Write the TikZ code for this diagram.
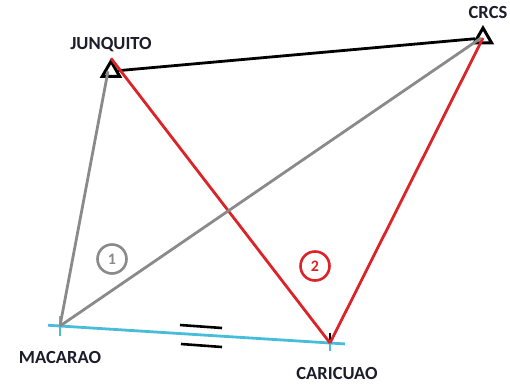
\documentclass[tikz,border=0pt]{standalone}
\usepackage{fontspec}
\setsansfont{Carlito}
\usepackage{tikz}
\usetikzlibrary{positioning,shapes.geometric}
\definecolor{routeGray}{HTML}{8A8A8A}
\definecolor{routeRed}{HTML}{DC2328}
\definecolor{routeCyan}{HTML}{48BDDA}
\definecolor{labelInk}{HTML}{1C1C2A}

\begin{document}
\begin{tikzpicture}[x=1pt, y=-1pt,
  station/.style={font=\sffamily\bfseries\fontsize{18.5}{20}\selectfont, text=labelInk, inner sep=0pt},
  tower/.style={draw=black, regular polygon, regular polygon sides=3, minimum size=20pt,
    inner sep=0pt, line width=3pt},
  road/.style={line width=2.8pt},
  tag/.style={circle, draw, line width=2.6pt, minimum size=29pt, inner sep=0pt,
    font=\sffamily\bfseries\fontsize{16}{17}\selectfont},
]
  \useasboundingbox (0,0) rectangle (510,385);

  % antennas and stops
  \node[tower] (jqTower) at (111,71.3) {};
  \node[tower] (crTower) at (483,38) {};
  \coordinate (mac) at (60,326);
  \coordinate (car) at (330,343);

  \node[station, above=6pt of jqTower] (jqLabel) {JUNQUITO};
  \node[station, above=6pt of crTower, xshift=5pt] (crLabel) {CRCS};
  \node[station, below=25pt of mac] (macLabel) {MACARAO};
  \node[station, below=24pt of car, xshift=7pt] (carLabel) {CARICUAO};

  % ground link
  \draw[road, routeCyan, shorten <=-12pt, shorten >=-15pt] (mac) -- (car);
  \draw[road, routeCyan] ([yshift=10pt]mac) -- ([yshift=-10pt]mac);
  \draw[road, routeCyan] (car) -- ([yshift=-8pt]car);
  \draw[line width=2.6pt] (180,325) -- (222,328);
  \draw[line width=2.6pt] (181,344) -- (222,347);

  % radio links
  \draw[road, black] (jqTower) -- (crTower);
  \draw[road, black] ([yshift=3pt]car) -- ([yshift=10pt]car);
  \draw[road, routeRed] (jqTower.north) -- (car);
  \draw[road, routeRed] (car) -- (crTower.center);
  \draw[road, routeGray] ([xshift=-3pt]jqTower.center) -- (mac);
  \draw[road, routeGray] (mac) -- ([xshift=-2pt]crTower.center);

  \node[tag, draw=routeGray, text=routeGray] (tagOne) at (112,259) {1};
  \node[tag, draw=routeRed, text=routeRed] (tagTwo) at (315,266) {2};
\end{tikzpicture}
\end{document}
